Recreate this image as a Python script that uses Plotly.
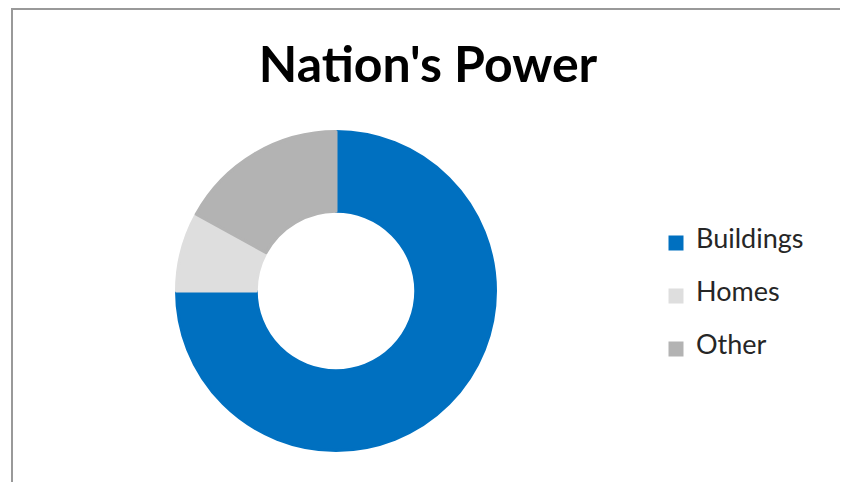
import plotly.graph_objects as go

labels = ["Buildings", "Homes", "Other"]
values = [75, 8, 17]
colors = ["#0070C0", "#DEDEDE", "#B3B3B3"]
title_text = "Nation's Power"

# page body has an 8px default margin, so the figure starts at (8, 8)
OFF = 8
W, H = 848 - OFF, 482 - OFF
FONT = "Lato"


def px(x):
    return (x - OFF) / W


def py(y):
    return 1 - (y - OFF) / H


legend_labels = ["<br><span style='font-size:27px'>%s</span><br> " % l for l in labels]

fig = go.Figure(go.Pie(
    labels=legend_labels,
    values=values,
    hole=0.5,
    sort=False,
    direction="clockwise",
    rotation=0,
    marker=dict(colors=colors, line=dict(color=colors, width=3)),
    textinfo="none",
    hovertext=labels,
    hoverinfo="text+percent",
    domain=dict(x=[px(176.5), px(495.5)], y=[py(450.5), py(131.5)]),
))

fig.update_layout(
    width=W, height=H,
    margin=dict(l=0, r=0, t=0, b=0),
    paper_bgcolor="white",
    title=dict(text="<b>%s</b>" % title_text, x=px(428), xanchor="center",
               y=py(64), yanchor="middle",
               font=dict(family=FONT, size=50, color="#000000")),
    legend=dict(x=px(656), xanchor="left", y=py(296), yanchor="middle",
                font=dict(family=FONT, size=12.82, color="#262626"),
                bgcolor="rgba(0,0,0,0)"),
    shapes=[dict(type="rect", xref="paper", yref="paper",
                 x0=px(12), x1=px(841), y0=-0.05, y1=py(9),
                 line=dict(color="#999999", width=2))],
)

fig.write_html("out.html")
